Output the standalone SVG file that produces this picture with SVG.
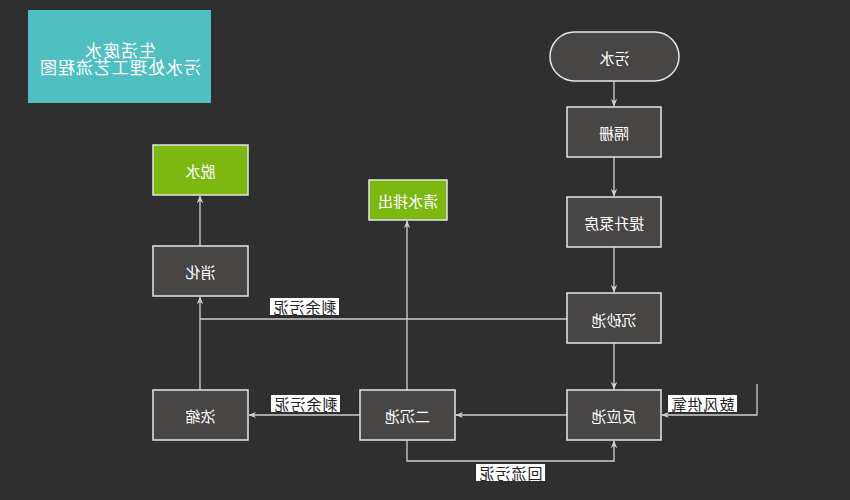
<svg xmlns="http://www.w3.org/2000/svg" width="850" height="500" viewBox="0 0 850 500">
<defs>
<style>
.bg{fill:#2f2f2f}
.node rect{fill:#474645;stroke:#e6e6e6;stroke-width:1.5}
.node.green rect{fill:#7db712}
.node text{fill:#ffffff;font-family:"Noto Sans CJK SC","Noto Sans",sans-serif;font-size:15px;text-anchor:middle;dominant-baseline:central}
.edge{fill:none;stroke:#cfcfcf;stroke-width:1.3;marker-end:url(#arr)}
.plain{fill:none;stroke:#cfcfcf;stroke-width:1.3}
.lbl rect{fill:#ffffff}
.lbl text{fill:#222;font-family:"Noto Sans CJK SC","Noto Sans",sans-serif;font-size:15px;letter-spacing:1px;text-anchor:middle;dominant-baseline:central}
.title text{fill:#ffffff;font-family:"Noto Sans CJK SC","Noto Sans",sans-serif;font-size:17px;letter-spacing:1px;text-anchor:middle;dominant-baseline:central}
</style>
<marker id="arr" viewBox="0 0 10 10" refX="9" refY="5" markerWidth="8" markerHeight="8" markerUnits="userSpaceOnUse" orient="auto">
<path d="M0,1 L10,5 L0,9 L3,5 Z" fill="#cfcfcf"/>
</marker>
</defs>
<rect class="bg" x="0" y="0" width="850" height="500"/>
<g id="title" class="title">
<rect x="28" y="10" width="183" height="93" fill="#4fbfc1"/>
<text x="120" y="49" transform="matrix(-1,0,0,1,240,0)">生活废水</text>
<text x="120" y="66" transform="matrix(-1,0,0,1,240,0)">污水处理工艺流程图</text>
</g>
<g id="connectors">
<path class="edge" d="M614,81 V106"/>
<path class="edge" d="M614,157 V196"/>
<path class="edge" d="M614,247 V292"/>
<path class="edge" d="M614,343 V389"/>
<path class="plain" d="M567,319 H200"/>
<path class="edge" d="M200,390 V297"/>
<path class="edge" d="M200,246 V196"/>
<path class="edge" d="M567,415 H456"/>
<path class="edge" d="M360,415 H249"/>
<path class="edge" d="M407,390 V221"/>
<path class="edge" d="M407,440 V461 H614 V441"/>
<path class="edge" d="M757,384 V415 H662"/>
</g>
<g id="lbl1" class="lbl"><rect x="270" y="298" width="69" height="17"/><text x="304.5" y="306.5" transform="matrix(-1,0,0,1,609,0)">剩余污泥</text></g>
<g id="lbl2" class="lbl"><rect x="271" y="395" width="69" height="17"/><text x="305.5" y="403.5" transform="matrix(-1,0,0,1,611,0)">剩余污泥</text></g>
<g id="lbl3" class="lbl"><rect x="476" y="464" width="69" height="17"/><text x="510.5" y="472.5" transform="matrix(-1,0,0,1,1021,0)">回流污泥</text></g>
<g id="lbl4" class="lbl"><rect x="668" y="395" width="69" height="17"/><text x="702.5" y="403.5" transform="matrix(-1,0,0,1,1405,0)">鼓风供氧</text></g>
<g id="n_wushui" class="node"><rect x="550" y="32" width="129" height="49" rx="24.5"/><text x="614.5" y="57" transform="matrix(-1,0,0,1,1229,0)">污水</text></g>
<g id="n_gezha" class="node"><rect x="567" y="107" width="94" height="50"/><text x="614" y="132" transform="matrix(-1,0,0,1,1228,0)">隔栅</text></g>
<g id="n_tisheng" class="node"><rect x="567" y="197" width="94" height="50"/><text x="614" y="222" transform="matrix(-1,0,0,1,1228,0)">提升泵房</text></g>
<g id="n_chensha" class="node"><rect x="567" y="293" width="94" height="50"/><text x="614" y="319" transform="matrix(-1,0,0,1,1228,0)">沉砂池</text></g>
<g id="n_fanying" class="node"><rect x="567" y="390" width="94" height="50"/><text x="614" y="415" transform="matrix(-1,0,0,1,1228,0)">反应池</text></g>
<g id="n_erchen" class="node"><rect x="360" y="390" width="95" height="50"/><text x="407.5" y="415" transform="matrix(-1,0,0,1,815,0)">二沉池</text></g>
<g id="n_nongsuo" class="node"><rect x="153" y="390" width="95" height="50"/><text x="200.5" y="415" transform="matrix(-1,0,0,1,401,0)">浓缩</text></g>
<g id="n_xiaohua" class="node"><rect x="153" y="246" width="95" height="50"/><text x="200.5" y="271" transform="matrix(-1,0,0,1,401,0)">消化</text></g>
<g id="n_tuoshui" class="node green"><rect x="153" y="145" width="95" height="50"/><text x="200.5" y="170" transform="matrix(-1,0,0,1,401,0)">脱水</text></g>
<g id="n_qingshui" class="node green"><rect x="369" y="180" width="78" height="40"/><text x="408" y="200" transform="matrix(-1,0,0,1,816,0)">清水排出</text></g>
</svg>
